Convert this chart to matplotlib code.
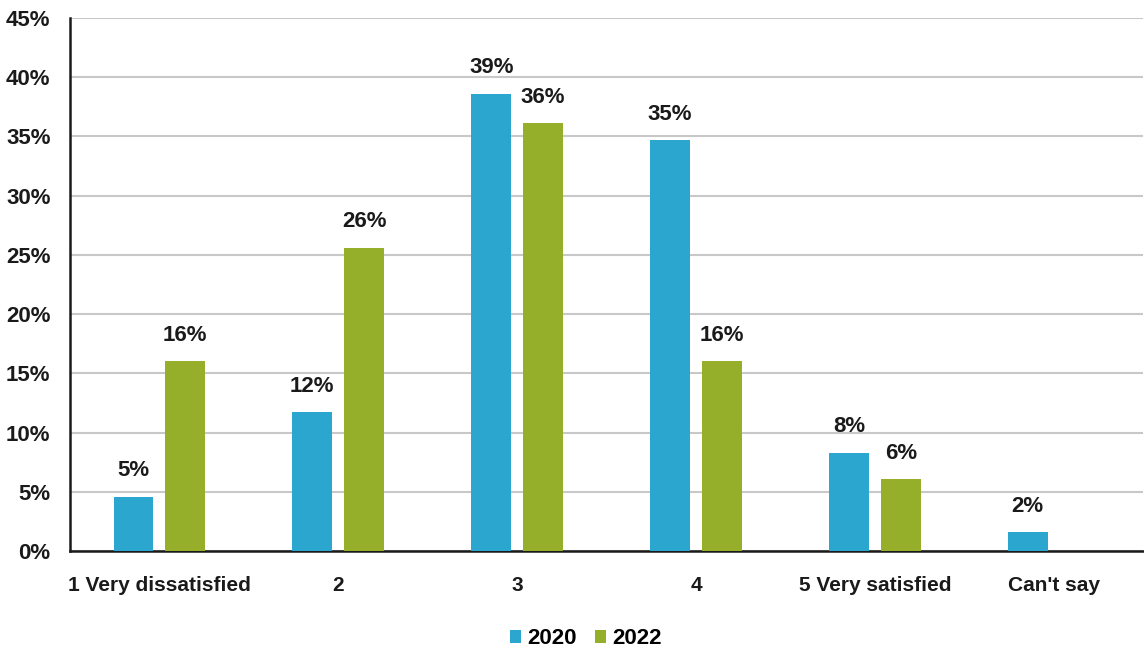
import matplotlib.pyplot as plt
import numpy as np

# satisfaction ratings, share of respondents (%)
categories = ['1 Very dissatisfied', '2', '3', '4', '5 Very satisfied', "Can't say"]
years = ['2020', '2022']
values_2020 = [4.6, 11.7, 38.6, 34.7, 8.3, 1.6]
values_2022 = [16.0, 25.6, 36.1, 16.0, 6.1, 0.0]
yticks = [0, 5, 10, 15, 20, 25, 30, 35, 40, 45]

colors = ['#2ba6cf', '#96af2a']

plt.rcParams['font.family'] = ['Liberation Sans', 'DejaVu Sans']

fig = plt.figure(figsize=(11.44, 6.6), dpi=100)
ax = fig.add_axes([0.0612, 0.165, 0.938, 0.808])

x = np.arange(len(categories))
width = 0.223
offset = 0.145

for i, (vals, col) in enumerate(zip([values_2020, values_2022], colors)):
    pos = x + (offset if i else -offset)
    bars = ax.bar(pos, vals, width, color=col, label=years[i], zorder=3)
    for b, v in zip(bars, vals):
        if v <= 0:
            continue
        ax.annotate('{:.0f}%'.format(v), (b.get_x() + b.get_width() / 2, v),
                    xytext=(0, 11), textcoords='offset points',
                    ha='center', va='bottom', fontsize=16, fontweight='bold',
                    color='#1a1a1a')

ax.set_xlim(-0.5, len(categories) - 0.5)
ax.set_ylim(0, 45)
ax.set_yticks(yticks)
ax.set_yticklabels(['{}%'.format(t) for t in yticks], fontsize=16, fontweight='bold')
ax.set_xticks(x)
ax.set_xticklabels(categories, fontsize=15, fontweight='bold')
ax.tick_params(axis='both', length=0, colors='#1a1a1a')
ax.tick_params(axis='y', pad=14)
ax.tick_params(axis='x', pad=18)

ax.grid(axis='y', color='#c8c8c8', linewidth=1.5, zorder=0)
for s in ['top', 'right']:
    ax.spines[s].set_visible(False)
ax.spines['left'].set_linewidth(1.8)
ax.spines['bottom'].set_linewidth(1.8)
ax.spines['left'].set_color('#1a1a1a')
ax.spines['bottom'].set_color('#1a1a1a')

leg = fig.legend(loc='center', bbox_to_anchor=(0.512, 0.032), ncol=2, frameon=False,
                 handlelength=0.5, handleheight=0.5, handletextpad=0.3,
                 columnspacing=0.8, prop={'weight': 'bold', 'size': 16})

fig.savefig('out.png', dpi=100)
